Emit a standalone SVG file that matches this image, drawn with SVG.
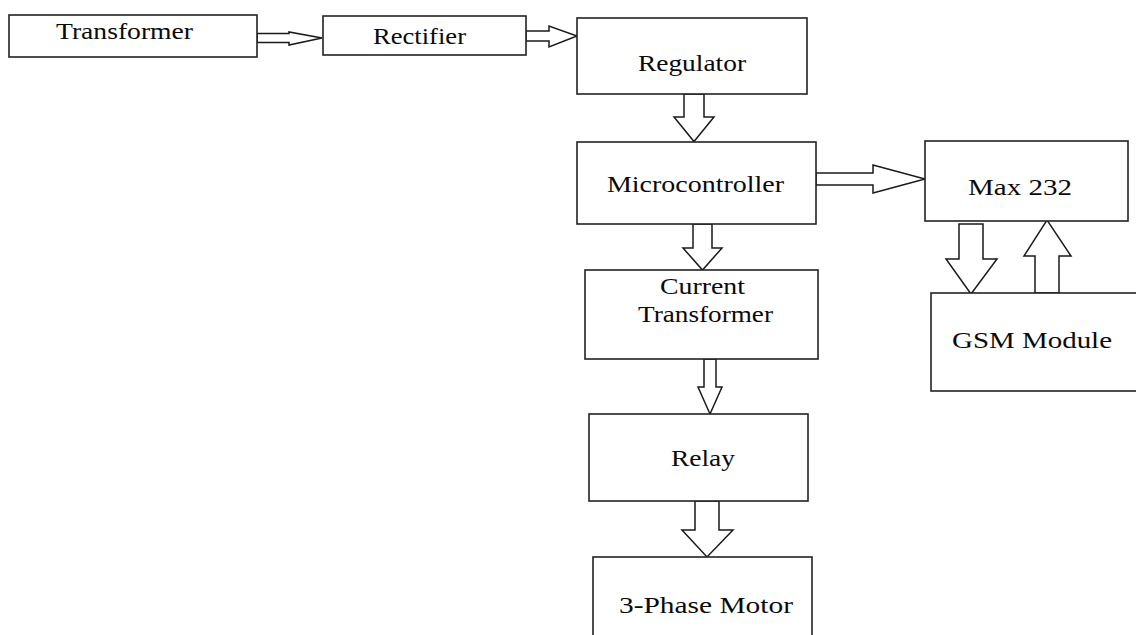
<svg xmlns="http://www.w3.org/2000/svg" width="1136" height="635" viewBox="0 0 1136 635">
<style>
  .box { fill: #ffffff; stroke: #222222; stroke-width: 1.6; }
  .arrow { fill: #ffffff; stroke: #1a1a1a; stroke-width: 1.5; stroke-linejoin: miter; }
  .label { font-family: "Liberation Serif", "Times New Roman", serif; font-size: 24px; fill: #0a0a0a; }
</style>
<rect x="0" y="0" width="1136" height="635" fill="#ffffff"/>

<g id="connectors">
  <polygon class="arrow" points="257,33.5 289,33.5 289,32 322,38 289,45 289,42.5 257,42.5"/>
  <polygon class="arrow" points="526,31 549,31 549,26 577,36 549,47 549,41 526,41"/>
  <polygon class="arrow" points="684,94 684,117 674,117 694,141.5 714,117 704,117 704,94"/>
  <polygon class="arrow" points="816,173 873,173 873,165 925,179 873,193 873,185 816,185"/>
  <polygon class="arrow" points="693,224 693,248 683,248 702.5,270 722,248 712,248 712,224"/>
  <polygon class="arrow" points="704,359 704,387 698,387 710,414 722,387 716,387 716,359"/>
  <polygon class="arrow" points="695,501 695,530 682,530 707,557 733,530 719,530 719,501"/>
  <polygon class="arrow" points="959,224 959,259 946,259 971,294 997,259 983,259 983,224"/>
  <polygon class="arrow" points="1035,293 1035,256 1024,256 1047,220 1071,256 1059,256 1059,293"/>
</g>

<g id="transformer">
  <rect class="box" x="9" y="15" width="248" height="42"/>
  <text class="label" x="56" y="39" textLength="137" lengthAdjust="spacingAndGlyphs">Transformer</text>
</g>
<g id="rectifier">
  <rect class="box" x="323" y="16" width="203" height="39"/>
  <text class="label" x="373" y="44" textLength="93" lengthAdjust="spacingAndGlyphs">Rectifier</text>
</g>
<g id="regulator">
  <rect class="box" x="577" y="18" width="230" height="76"/>
  <text class="label" x="638" y="71" textLength="108" lengthAdjust="spacingAndGlyphs">Regulator</text>
</g>
<g id="microcontroller">
  <rect class="box" x="577" y="142" width="239" height="82"/>
  <text class="label" x="607" y="192" textLength="177" lengthAdjust="spacingAndGlyphs">Microcontroller</text>
</g>
<g id="max232">
  <rect class="box" x="925" y="141" width="203" height="80"/>
  <text class="label" x="968" y="195" textLength="104" lengthAdjust="spacingAndGlyphs">Max 232</text>
</g>
<g id="gsm-module">
  <rect class="box" x="931" y="293" width="215" height="98"/>
  <text class="label" x="952" y="348" textLength="160" lengthAdjust="spacingAndGlyphs">GSM Module</text>
</g>
<g id="current-transformer">
  <rect class="box" x="585" y="270" width="233" height="89"/>
  <text class="label" x="660" y="294" textLength="85" lengthAdjust="spacingAndGlyphs">Current</text>
  <text class="label" x="638" y="322" textLength="135" lengthAdjust="spacingAndGlyphs">Transformer</text>
</g>
<g id="relay">
  <rect class="box" x="589" y="414" width="219" height="87"/>
  <text class="label" x="671" y="466" textLength="64" lengthAdjust="spacingAndGlyphs">Relay</text>
</g>
<g id="three-phase-motor">
  <rect class="box" x="593" y="557" width="219" height="90"/>
  <text class="label" x="619" y="613" textLength="174" lengthAdjust="spacingAndGlyphs">3-Phase Motor</text>
</g>
</svg>
